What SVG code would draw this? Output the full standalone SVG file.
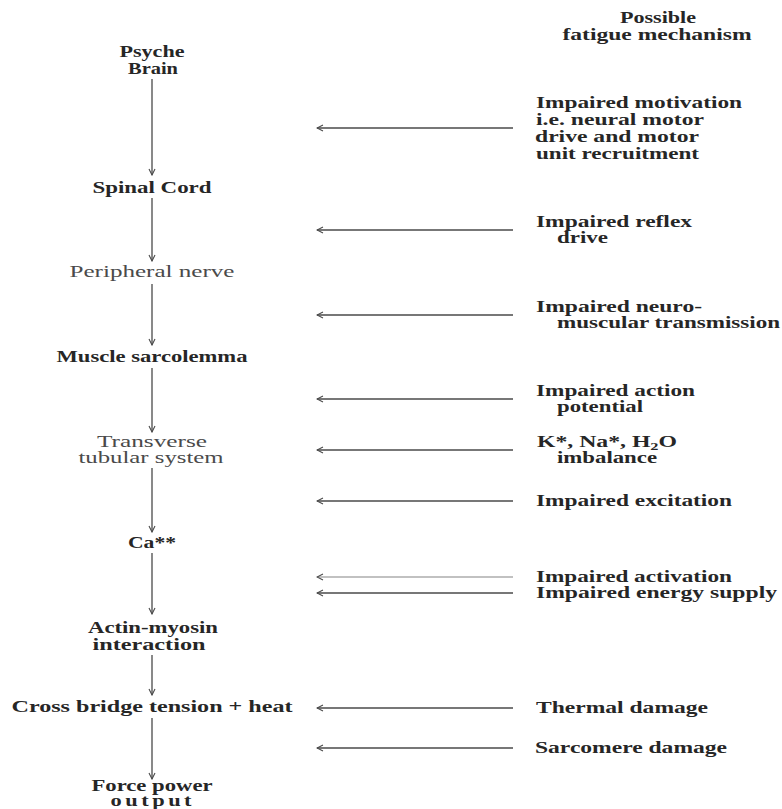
<svg xmlns="http://www.w3.org/2000/svg" width="782" height="809" viewBox="0 0 782 809">
  <style>
    text { font-family: "Liberation Serif", "DejaVu Serif", serif; font-size: 16px; fill: #262626; font-weight: bold; }
    .c { text-anchor: middle; }
    .light { font-weight: normal; fill: #4a4a4a; }
    .flow { stroke: #4a4a4a; stroke-width: 1.3; fill: none; }
    .cause { stroke: #4a4a4a; stroke-width: 1.3; fill: none; }
  </style>
  <defs>
    <marker id="head" viewBox="0 0 8 8" refX="7" refY="4" markerWidth="8" markerHeight="8" markerUnits="userSpaceOnUse" orient="auto">
      <path d="M1,1 L7,4 L1,7" fill="none" stroke="#4a4a4a" stroke-width="1.1"/>
    </marker>
  </defs>
  <rect width="782" height="809" fill="#ffffff"/>

  <!-- column heading -->
  <g id="heading">
    <text class="c" x="658" y="23" textLength="76" lengthAdjust="spacingAndGlyphs" fill="#333333">Possible</text>
    <text class="c" x="657" y="40" textLength="189" lengthAdjust="spacingAndGlyphs" fill="#333333">fatigue mechanism</text>
  </g>

  <!-- chain of events, top to bottom -->
  <g id="psyche-brain">
    <text class="c" x="152" y="57" textLength="65" lengthAdjust="spacingAndGlyphs">Psyche</text>
    <text class="c" x="153" y="74" textLength="50" lengthAdjust="spacingAndGlyphs">Brain</text>
  </g>
  <g id="spinal-cord">
    <text class="c" x="152" y="193" textLength="119" lengthAdjust="spacingAndGlyphs">Spinal Cord</text>
  </g>
  <g id="peripheral-nerve">
    <text class="c light" x="152" y="277" textLength="165" lengthAdjust="spacingAndGlyphs">Peripheral nerve</text>
  </g>
  <g id="muscle-sarcolemma">
    <text class="c" x="152" y="362" textLength="191" lengthAdjust="spacingAndGlyphs">Muscle sarcolemma</text>
  </g>
  <g id="transverse-tubular">
    <text class="c light" x="152" y="447" textLength="110" lengthAdjust="spacingAndGlyphs">Transverse</text>
    <text class="c light" x="151" y="463" textLength="145" lengthAdjust="spacingAndGlyphs">tubular system</text>
  </g>
  <g id="calcium">
    <text class="c" x="152" y="548" textLength="48" lengthAdjust="spacingAndGlyphs">Ca**</text>
  </g>
  <g id="actin-myosin">
    <text class="c" x="153" y="633" textLength="130" lengthAdjust="spacingAndGlyphs">Actin-myosin</text>
    <text class="c" x="149" y="650" textLength="113" lengthAdjust="spacingAndGlyphs">interaction</text>
  </g>
  <g id="cross-bridge">
    <text class="c" x="152" y="712" textLength="281" lengthAdjust="spacingAndGlyphs">Cross bridge tension  +  heat</text>
  </g>
  <g id="force-output">
    <text class="c" x="152" y="791" textLength="121" lengthAdjust="spacingAndGlyphs" font-size="13">Force power</text>
    <text class="c" transform="translate(151,806) scale(1.4,1)" x="0" y="0" textLength="58" lengthAdjust="spacing" font-size="13">output</text>
  </g>

  <!-- fatigue mechanisms -->
  <g id="motivation">
    <text x="536" y="108" textLength="206" lengthAdjust="spacingAndGlyphs">Impaired motivation</text>
    <text x="536" y="125" textLength="168" lengthAdjust="spacingAndGlyphs">i.e. neural motor</text>
    <text x="535" y="142" textLength="164" lengthAdjust="spacingAndGlyphs">drive and motor</text>
    <text x="536" y="159" textLength="163" lengthAdjust="spacingAndGlyphs">unit recruitment</text>
  </g>
  <g id="reflex">
    <text x="536" y="227" textLength="156" lengthAdjust="spacingAndGlyphs">Impaired reflex</text>
    <text x="557" y="243" textLength="51" lengthAdjust="spacingAndGlyphs">drive</text>
  </g>
  <g id="neuromuscular">
    <text x="536" y="312" textLength="166" lengthAdjust="spacingAndGlyphs">Impaired neuro-</text>
    <text x="557" y="328" textLength="223" lengthAdjust="spacingAndGlyphs">muscular transmission</text>
  </g>
  <g id="action-potential">
    <text x="536" y="396" textLength="159" lengthAdjust="spacingAndGlyphs">Impaired action</text>
    <text x="557" y="412" textLength="86" lengthAdjust="spacingAndGlyphs">potential</text>
  </g>
  <g id="ion-imbalance">
    <text x="537" y="447" textLength="140" lengthAdjust="spacingAndGlyphs">K*, Na*, H<tspan font-size="11" dy="3">2</tspan><tspan dy="-3">O</tspan></text>
    <text x="557" y="463" textLength="100" lengthAdjust="spacingAndGlyphs">imbalance</text>
  </g>
  <g id="excitation">
    <text x="536" y="506" textLength="196" lengthAdjust="spacingAndGlyphs">Impaired excitation</text>
  </g>
  <g id="activation">
    <text x="536" y="582" textLength="196" lengthAdjust="spacingAndGlyphs">Impaired activation</text>
  </g>
  <g id="energy-supply">
    <text x="536" y="598" textLength="241" lengthAdjust="spacingAndGlyphs">Impaired energy supply</text>
  </g>
  <g id="thermal-damage">
    <text x="536" y="713" textLength="172" lengthAdjust="spacingAndGlyphs">Thermal damage</text>
  </g>
  <g id="sarcomere-damage">
    <text x="535" y="753" textLength="192" lengthAdjust="spacingAndGlyphs">Sarcomere damage</text>
  </g>

  <!-- connectors -->
  <g id="connectors">
    <!-- downward chain -->
    <line class="flow" x1="152" y1="79" x2="152" y2="175" marker-end="url(#head)"/>
    <line class="flow" x1="152" y1="198" x2="152" y2="261" marker-end="url(#head)"/>
    <line class="flow" x1="152" y1="284" x2="152" y2="345" marker-end="url(#head)"/>
    <line class="flow" x1="152" y1="368" x2="152" y2="432" marker-end="url(#head)"/>
    <line class="flow" x1="152" y1="468" x2="152" y2="532" marker-end="url(#head)"/>
    <line class="flow" x1="152" y1="553" x2="152" y2="614" marker-end="url(#head)"/>
    <line class="flow" x1="152" y1="655" x2="152" y2="695" marker-end="url(#head)"/>
    <line class="flow" x1="152" y1="718" x2="152" y2="779" marker-end="url(#head)"/>
    <!-- mechanisms acting on the chain -->
    <line class="cause" x1="513" y1="128" x2="317" y2="128" marker-end="url(#head)"/>
    <line class="cause" x1="513" y1="230" x2="317" y2="230" marker-end="url(#head)"/>
    <line class="cause" x1="513" y1="315" x2="317" y2="315" marker-end="url(#head)"/>
    <line class="cause" x1="513" y1="399" x2="317" y2="399" marker-end="url(#head)"/>
    <line class="cause" x1="513" y1="450" x2="317" y2="450" marker-end="url(#head)"/>
    <line class="cause" x1="513" y1="501" x2="317" y2="501" marker-end="url(#head)"/>
    <line class="cause" x1="513" y1="577" x2="317" y2="577" marker-end="url(#head)" stroke-opacity="0.45"/>
    <line class="cause" x1="513" y1="593" x2="317" y2="593" marker-end="url(#head)"/>
    <line class="cause" x1="513" y1="708" x2="317" y2="708" marker-end="url(#head)"/>
    <line class="cause" x1="513" y1="748" x2="317" y2="748" marker-end="url(#head)"/>
  </g>
</svg>
